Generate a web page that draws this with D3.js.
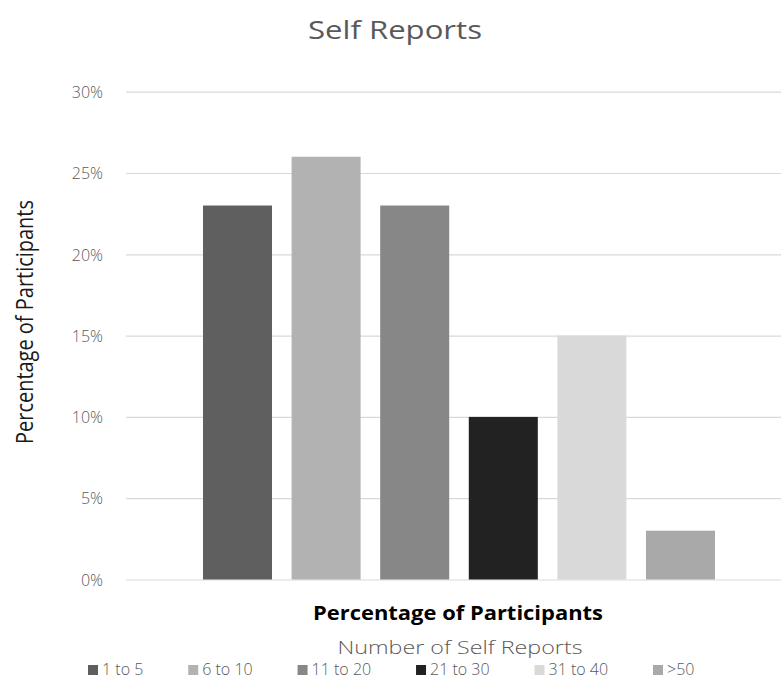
<!DOCTYPE html>
<html>
<head>
<meta charset="utf-8">
<script src="https://cdn.jsdelivr.net/npm/d3@7"></script>
<style>
  html, body { margin: 0; padding: 0; background: #ffffff; }
  svg { display: block; }
</style>
</head>
<body>
<svg id="chart" width="781" height="682"></svg>
<script>
// ---- data ----
const seriesNames = ["1 to 5", "6 to 10", "11 to 20", "21 to 30", "31 to 40", ">50"];
const seriesValues = [0.23, 0.26, 0.23, 0.10, 0.15, 0.03];
const seriesColors = ["#5f5f5f", "#b2b2b2", "#878787", "#222222", "#d9d9d9", "#a9a9a9"];
const yTicks = [0, 0.05, 0.10, 0.15, 0.20, 0.25, 0.30];
const titleText = "Self Reports";
const yLabelText = "Percentage of Participants";
const categoryLabel = "Percentage of Participants";
const legendTitle = "Number of Self Reports";

// ---- layout ----
const W = 781, H = 682;
const plotLeft = 126, plotRight = 792, plotTop = 91.7, plotBottom = 579.5;
const svg = d3.select("#chart");
const FONT = "'Open Sans', 'Noto Sans', 'DejaVu Sans', sans-serif";

const x = d3.scaleBand().domain(seriesNames).range([plotLeft, plotRight])
  .paddingInner(0.221).paddingOuter(0.869);
const y = d3.scaleLinear().domain([0, 0.30]).range([plotBottom, plotTop]);

// gridlines + tick labels
const yAxis = d3.axisLeft(y).tickValues(yTicks)
  .tickFormat(d3.format(".0%"))
  .tickSizeInner(-(plotRight - plotLeft)).tickSizeOuter(0).tickPadding(23);
const gy = svg.append("g").attr("transform", `translate(${plotLeft},0)`).call(yAxis);
gy.select(".domain").remove();
gy.selectAll(".tick line").attr("stroke", "#d9d9d9").attr("stroke-width", 1.2);
gy.selectAll(".tick text").attr("fill", "#595959").attr("font-family", FONT)
  .attr("font-size", 16).attr("font-weight", 300).attr("dy", "0.36em");

// bars
svg.append("g").selectAll("rect").data(seriesNames).join("rect")
  .attr("x", d => x(d))
  .attr("width", x.bandwidth())
  .attr("y", (d, i) => y(seriesValues[i]))
  .attr("height", (d, i) => y(0) - y(seriesValues[i]))
  .attr("fill", (d, i) => seriesColors[i]);

// title
svg.append("text").attr("x", 395).attr("y", 39).attr("text-anchor", "middle")
  .attr("font-family", FONT).attr("font-size", 26).attr("fill", "#595959")
  .attr("textLength", 174).attr("lengthAdjust", "spacingAndGlyphs")
  .text(titleText);

// y label
svg.append("text").attr("transform", "translate(33,322) rotate(-90)")
  .attr("text-anchor", "middle").attr("font-family", FONT).attr("font-size", 23)
  .attr("fill", "#1a1a1a").attr("textLength", 244).attr("lengthAdjust", "spacingAndGlyphs")
  .text(yLabelText);

// category label (bold)
svg.append("text").attr("x", 458).attr("y", 620).attr("text-anchor", "middle")
  .attr("font-family", FONT).attr("font-size", 20).attr("font-weight", 700)
  .attr("fill", "#000000").attr("textLength", 290).attr("lengthAdjust", "spacingAndGlyphs")
  .text(categoryLabel);

// legend title
svg.append("text").attr("x", 460).attr("y", 654).attr("text-anchor", "middle")
  .attr("font-family", FONT).attr("font-size", 19).attr("font-weight", 300)
  .attr("fill", "#595959").attr("textLength", 245).attr("lengthAdjust", "spacingAndGlyphs")
  .text(legendTitle);

// legend items
const legend = svg.append("g");
const items = legend.selectAll("g").data(seriesNames).join("g");
items.append("rect").attr("width", 10).attr("height", 10).attr("y", 665)
  .attr("fill", (d, i) => seriesColors[i]);
items.append("text").attr("x", 14).attr("y", 675)
  .attr("font-family", FONT).attr("font-size", 16).attr("font-weight", 300)
  .attr("fill", "#595959").text(d => d);
const widths = [];
items.each(function() {
  widths.push(d3.select(this).select("text").node().getComputedTextLength());
});
const firstX = 88, lastX = 653;
const gap = (lastX - firstX - d3.sum(widths.slice(0, -1)) - (seriesNames.length - 1) * 14) / (seriesNames.length - 1);
items.attr("transform", (d, i) => {
  const pos = firstX + d3.sum(widths.slice(0, i)) + i * 14 + i * gap;
  return `translate(${pos},0)`;
});
</script>
</body>
</html>
